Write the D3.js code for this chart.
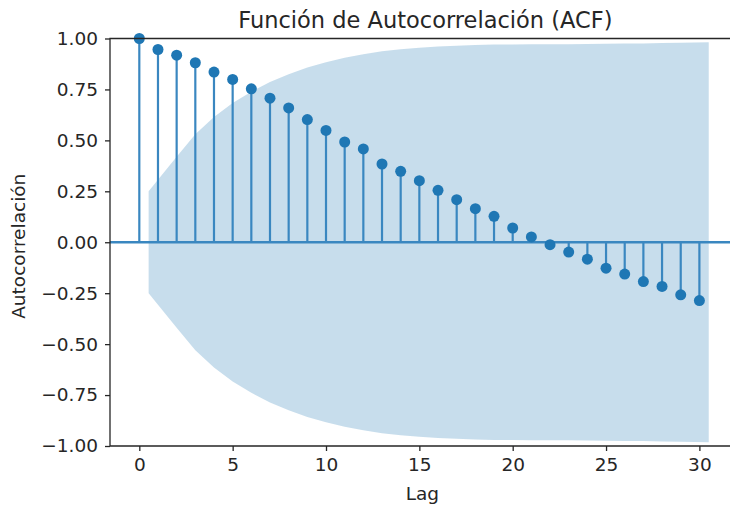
<!DOCTYPE html>
<html>
<head>
<meta charset="utf-8">
<title>ACF</title>
<style>
  body { margin: 0; background: #fff; }
  text { font-family: "DejaVu Sans", sans-serif; fill: #262626; }
</style>
</head>
<body>
<script src="https://cdn.jsdelivr.net/npm/d3@7/dist/d3.min.js"></script>
<script>

// valores
var lags = d3.range(0, 31);
var acf = [1.00, 0.946, 0.918, 0.881, 0.835, 0.799, 0.753, 0.707, 0.659, 0.602,
           0.549, 0.492, 0.458, 0.384, 0.348, 0.302, 0.255, 0.209, 0.165, 0.127,
           0.070, 0.026, -0.012, -0.048, -0.083, -0.127, -0.156, -0.193, -0.217, -0.258,
           -0.286];
// banda de confianza (mitad del ancho), en lag 0.5, 2, 3, ..., 29, 30.5
var bandLags = [0.5].concat(d3.range(2, 30), [30.5]);
var bandHalf = [0.25, 0.42, 0.53, 0.615, 0.683, 0.739, 0.786, 0.825, 0.858, 0.884,
                0.906, 0.923, 0.937, 0.947, 0.955, 0.961, 0.965, 0.968, 0.970, 0.971,
                0.972, 0.972, 0.972, 0.973, 0.974, 0.975, 0.976, 0.978, 0.979, 0.981];
var xTicks = [0, 5, 10, 15, 20, 25, 30];
var yTicks = [-1.00, -0.75, -0.50, -0.25, 0.00, 0.25, 0.50, 0.75, 1.00];

var width = 730, height = 508;
var pLeft = 110, pRight = 728.7, pTop = 38.5, pBottom = 446;
var blue = "#1f77b4";

var svg = d3.select("body").append("svg")
    .attr("width", width)
    .attr("height", height);

var x = d3.scaleLinear().domain([-1.57, 31.57]).range([pLeft, pRight]);
var y = d3.scaleLinear().domain([-1, 1]).range([pBottom, pTop]);

// banda
var band = d3.area()
    .x(function(d, i) { return x(bandLags[i]); })
    .y0(function(d) { return y(-d); })
    .y1(function(d) { return y(d); });

svg.append("path")
    .datum(bandHalf)
    .attr("d", band)
    .attr("fill", blue)
    .attr("fill-opacity", 0.25);

// tallos
svg.selectAll(".stem")
    .data(acf)
    .enter().append("line")
    .attr("class", "stem")
    .attr("x1", function(d, i) { return x(lags[i]); })
    .attr("x2", function(d, i) { return x(lags[i]); })
    .attr("y1", y(0))
    .attr("y2", function(d) { return y(d); })
    .attr("stroke", "#3a87c0")
    .attr("stroke-width", 2.2);

// línea del cero
svg.append("line")
    .attr("x1", pLeft).attr("x2", width)
    .attr("y1", y(0)).attr("y2", y(0))
    .attr("stroke", "#3a87c0")
    .attr("stroke-width", 2.5);

// marcadores
svg.selectAll(".dot")
    .data(acf)
    .enter().append("circle")
    .attr("class", "dot")
    .attr("cx", function(d, i) { return x(lags[i]); })
    .attr("cy", function(d) { return y(d); })
    .attr("r", 5.5)
    .attr("fill", blue);

// ejes
var xAxis = d3.axisBottom(x).tickValues(xTicks).tickSize(5).tickPadding(7);
var yAxis = d3.axisLeft(y).tickValues(yTicks).tickSize(5).tickPadding(7)
    .tickFormat(function(d) { return d3.format(".2f")(d).replace("-", "\u2212"); });

var gx = svg.append("g")
    .attr("transform", "translate(0," + pBottom + ")")
    .call(xAxis);
var gy = svg.append("g")
    .attr("transform", "translate(" + pLeft + ",0)")
    .call(yAxis);

[gx, gy].forEach(function(g) {
  g.select(".domain").remove();
  g.selectAll("line").attr("stroke", "#262626").attr("stroke-width", 1.3);
  g.selectAll("text").attr("font-size", 18.5).attr("fill", "#262626")
    .style("font-family", "'DejaVu Sans', sans-serif");
});

// marco (arriba, izquierda, abajo)
svg.append("path")
    .attr("d", "M" + width + "," + pTop + "H" + pLeft + "V" + pBottom + "H" + width)
    .attr("fill", "none")
    .attr("stroke", "#262626")
    .attr("stroke-width", 1.3);

svg.append("text")
    .attr("x", (pLeft + pRight) / 2 + 6)
    .attr("y", 28)
    .attr("text-anchor", "middle")
    .attr("font-size", 22.5)
    .text("Función de Autocorrelación (ACF)");

svg.append("text")
    .attr("x", (pLeft + pRight) / 2 + 3)
    .attr("y", 500)
    .attr("text-anchor", "middle")
    .attr("font-size", 18.5)
    .text("Lag");

svg.append("text")
    .attr("transform", "translate(25," + ((pTop + pBottom) / 2 + 4) + ") rotate(-90)")
    .attr("text-anchor", "middle")
    .attr("font-size", 18.5)
    .text("Autocorrelación");

</script>
</body>
</html>
